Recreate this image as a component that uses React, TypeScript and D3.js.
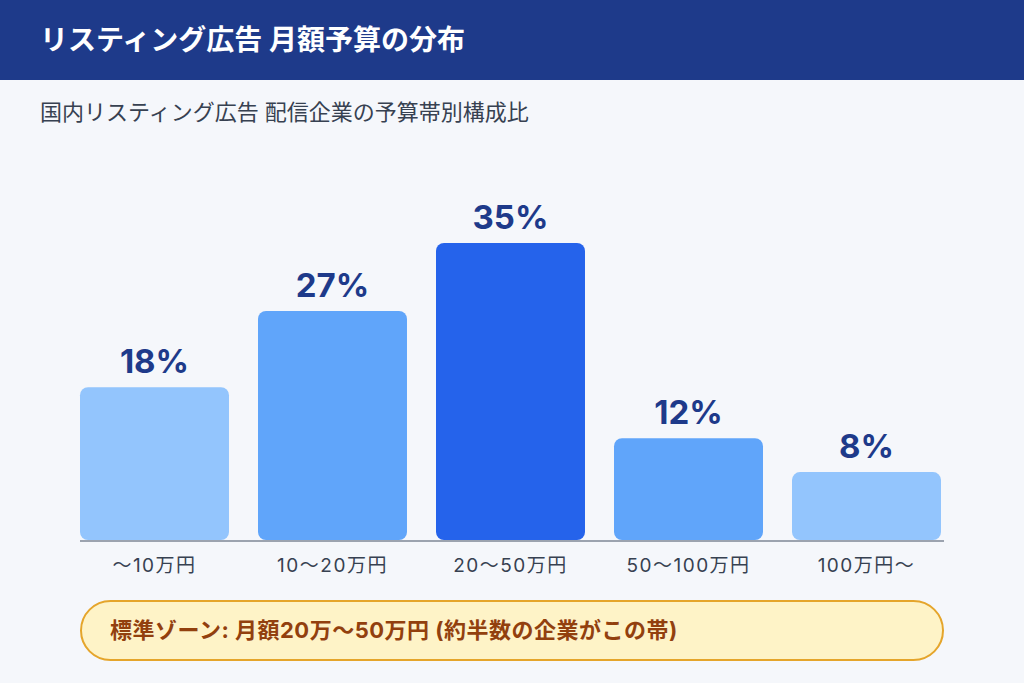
import * as d3 from "d3";
import { useEffect, useRef } from "react";

const categories = ["〜10万円", "10〜20万円", "20〜50万円", "50〜100万円", "100万円〜"];
const shares = [18, 27, 35, 12, 8];
const barColors = ["#93c5fd", "#60a5fa", "#2563eb", "#60a5fa", "#93c5fd"];

const titleText = "リスティング広告 月額予算の分布";
const subtitleText = "国内リスティング広告 配信企業の予算帯別構成比";
const noteText = "標準ゾーン: 月額20万〜50万円 (約半数の企業がこの帯)";

const W = 1024;
const H = 683;
const FONT = "Inter, 'Noto Sans CJK JP', 'Noto Sans', sans-serif";

export default function App() {
    const ref = useRef<SVGSVGElement | null>(null);

    useEffect(() => {
        if (!ref.current) return;
        const svg = d3.select(ref.current);
        svg.selectAll("*").remove();

        svg.append("rect").attr("width", W).attr("height", H).attr("fill", "#f5f7fb");

        // header
        svg.append("rect").attr("width", W).attr("height", 80).attr("fill", "#1e3a8a");
        svg.append("text")
            .attr("x", 40).attr("y", 50)
            .attr("fill", "#ffffff")
            .attr("font-size", 28).attr("font-weight", 700)
            .attr("font-family", FONT)
            .text(titleText);

        svg.append("text")
            .attr("x", 40).attr("y", 120)
            .attr("fill", "#374151")
            .attr("font-size", 22)
            .attr("font-family", FONT)
            .text(subtitleText);

        const x = d3.scaleBand<string>()
            .domain(categories)
            .range([80, 941])
            .paddingInner(0.163)
            .paddingOuter(0);

        const y = d3.scaleLinear()
            .domain([0, d3.max(shares)!])
            .range([540, 243]);

        const g = svg.append("g");

        // bars
        g.selectAll("rect.bar")
            .data(shares)
            .join("rect")
            .attr("class", "bar")
            .attr("x", (_, i) => x(categories[i])!)
            .attr("y", d => y(d))
            .attr("width", x.bandwidth())
            .attr("height", d => y(0) - y(d))
            .attr("rx", 8)
            .attr("fill", (_, i) => barColors[i]);

        // value labels
        g.selectAll("text.val")
            .data(shares)
            .join("text")
            .attr("class", "val")
            .attr("x", (_, i) => x(categories[i])! + x.bandwidth() / 2)
            .attr("y", d => y(d) - 14)
            .attr("text-anchor", "middle")
            .attr("fill", "#1e3a8a")
            .attr("font-size", 33).attr("font-weight", 700)
            .attr("font-family", FONT)
            .text(d => `${d}%`);

        // baseline
        g.append("line")
            .attr("x1", 80).attr("x2", 944)
            .attr("y1", y(0) + 1).attr("y2", y(0) + 1)
            .attr("stroke", "#9ca3af").attr("stroke-width", 2);

        // category labels
        g.selectAll("text.cat")
            .data(categories)
            .join("text")
            .attr("class", "cat")
            .attr("x", d => x(d)! + x.bandwidth() / 2)
            .attr("y", 572)
            .attr("text-anchor", "middle")
            .attr("fill", "#374151")
            .attr("font-size", 19)
            .attr("letter-spacing", 1.5)
            .attr("font-family", FONT)
            .text(d => d);

        // note box
        svg.append("rect")
            .attr("x", 81).attr("y", 601)
            .attr("width", 862).attr("height", 59)
            .attr("rx", 29.5)
            .attr("fill", "#fef3c7")
            .attr("stroke", "#e5a52b").attr("stroke-width", 2);
        svg.append("text")
            .attr("x", 110).attr("y", 638)
            .attr("fill", "#92400e")
            .attr("font-size", 22).attr("font-weight", 700)
            .attr("letter-spacing", 0.5)
            .attr("font-family", FONT)
            .text(noteText);
    }, []);

    return <svg ref={ref} width={W} height={H} style={{ display: "block", position: "absolute", left: 0, top: 0 }} />;
}
